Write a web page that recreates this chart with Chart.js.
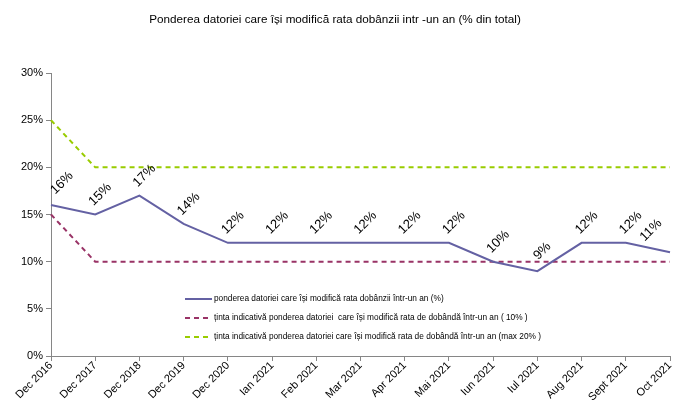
<!DOCTYPE html>
<html>
<head>
<meta charset="utf-8">
<script src="https://cdn.jsdelivr.net/npm/chart.js@4"></script>
<style>
  html, body { margin: 0; padding: 0; background: #fff; }
  #wrap { width: 683px; height: 401px; }
</style>
</head>
<body>
<div id="wrap"><canvas id="lineChart"></canvas></div>
<script>
const categories = ["Dec 2016", "Dec 2017", "Dec 2018", "Dec 2019", "Dec 2020", "Ian 2021", "Feb 2021",
  "Mar 2021", "Apr 2021", "Mai 2021", "Iun 2021", "Iul 2021", "Aug 2021", "Sept 2021", "Oct 2021"];
const ponderea = [16, 15, 17, 14, 12, 12, 12, 12, 12, 12, 10, 9, 12, 12, 11];
const tinta10 = [15, 10, 10, 10, 10, 10, 10, 10, 10, 10, 10, 10, 10, 10, 10];
const tinta20 = [25, 20, 20, 20, 20, 20, 20, 20, 20, 20, 20, 20, 20, 20, 20];
const yTicks = [0, 5, 10, 15, 20, 25, 30];

const FONT = "'Liberation Sans', Arial, sans-serif";

// rotated value labels above the solid line + legend drawn inside the plot
const extras = {
  id: "extras",
  afterDatasetsDraw(chart) {
    const ctx = chart.ctx;
    const meta = chart.getDatasetMeta(0);
    ctx.save();
    ctx.fillStyle = "#000";
    ctx.font = "13px " + FONT;
    ctx.textBaseline = "middle";
    ctx.textAlign = "center";
    meta.data.forEach((pt, i) => {
      let dx = 5, dy = -20;
      if (i === 0) { dx = 11; dy = -22; }
      if (i === meta.data.length - 1) { dx = -19; dy = -22; }
      ctx.save();
      ctx.translate(pt.x + dx, pt.y + dy);
      ctx.rotate(-Math.PI / 4);
      ctx.fillText(ponderea[i] + "%", 0, 0);
      ctx.restore();
    });

    // legend
    ctx.font = "8.3px " + FONT;
    ctx.textAlign = "left";
    const lx = 185, rows = [299, 318, 337];
    chart.data.datasets.forEach((ds, i) => {
      ctx.strokeStyle = ds.borderColor;
      ctx.lineWidth = 2;
      ctx.setLineDash(ds.borderDash || []);
      ctx.beginPath();
      ctx.moveTo(lx, rows[i]);
      ctx.lineTo(lx + 27, rows[i]);
      ctx.stroke();
      ctx.setLineDash([]);
      ctx.fillStyle = "#000";
      ctx.fillText(ds.label, lx + 29, rows[i]);
    });
    ctx.restore();
  }
};

new Chart(document.getElementById("lineChart"), {
  type: "line",
  data: {
    labels: categories,
    datasets: [{
      label: "ponderea datoriei care își modifică rata dobânzii într-un an (%)",
      data: ponderea,
      borderColor: "#6461a3",
      borderWidth: 2,
      pointRadius: 0,
      tension: 0
    }, {
      label: "ținta indicativă ponderea datoriei  care își modifică rata de dobândă într-un an ( 10% )",
      data: tinta10,
      borderColor: "#993366",
      borderWidth: 2,
      borderDash: [5, 4],
      pointRadius: 0
    }, {
      label: "ținta indicativă ponderea datoriei care își modifică rata de dobândă într-un an (max 20% )",
      data: tinta20,
      borderColor: "#99cc00",
      borderWidth: 2,
      borderDash: [5, 4],
      pointRadius: 0
    }]
  },
  options: {
    responsive: true,
    maintainAspectRatio: false,
    animation: false,
    layout: { padding: { top: 8, right: 13, left: 0, bottom: 0 } },
    plugins: {
      legend: { display: false },
      tooltip: { enabled: false },
      title: {
        display: true,
        text: "Ponderea datoriei care își modifică rata dobânzii intr -un an (% din total)",
        color: "#000",
        font: { family: FONT, size: 11.7, weight: "normal" },
        padding: { top: 5, bottom: 46 }
      }
    },
    scales: {
      x: {
        offset: false,
        afterFit(axis) { axis.height = 45; },
        grid: { drawOnChartArea: false, color: "#868686", tickLength: 5 },
        border: { color: "#868686" },
        ticks: {
          color: "#000",
          font: { family: FONT, size: 11 },
          maxRotation: 45,
          minRotation: 45,
          autoSkip: false,
          padding: -2
        }
      },
      y: {
        min: 0,
        max: 30,
        afterBuildTicks(axis) { axis.ticks = yTicks.map(v => ({ value: v })); },
        afterFit(axis) { axis.width = 51; },
        grid: { drawOnChartArea: false, color: "#868686", tickLength: 5 },
        border: { color: "#868686" },
        ticks: {
          color: "#000",
          font: { family: FONT, size: 11 },
          padding: 3,
          callback: v => v + "%"
        }
      }
    }
  },
  plugins: [extras]
});
</script>
</body>
</html>
